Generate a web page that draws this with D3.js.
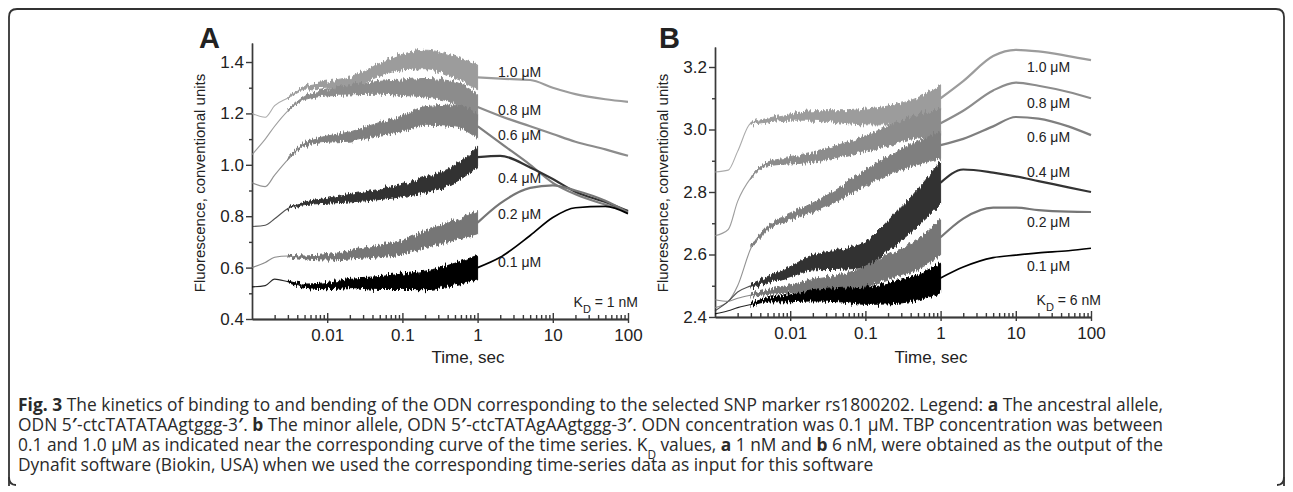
<!DOCTYPE html>
<html>
<head>
<meta charset="utf-8">
<script src="https://cdn.jsdelivr.net/npm/d3@7"></script>
<style>
    html, body { margin: 0; padding: 0; background: #fff; }
    svg { display: block; }
    .axis path, .axis line { stroke: #3a3a3a; stroke-width: 1.4; }
    .axis text { font-family: "Liberation Sans", Arial, sans-serif; font-size: 17px; fill: #222; }
    .chart-text { font-family: "Liberation Sans", Arial, sans-serif; fill: #222; }
    .caption { font-family: "Open Sans", sans-serif; fill: #2a2a2a; }
</style>
</head>
<body>
<div id="fig"></div>
<script>
// sampling times (sec), shared by every curve
var times = [0.001, 0.0015, 0.002, 0.003, 0.005, 0.01, 0.02, 0.05, 0.1, 0.2, 0.5, 1, 2, 5, 10, 20, 50, 100];
var concentrations = ["1.0", "0.8", "0.6", "0.4", "0.2", "0.1"];
var seriesColors = ["#9c9c9c", "#8c8c8c", "#7f7f7f", "#333333", "#767676", "#000000"];

// panel A, ancestral allele (KD = 1 nM)
var a10 = [1.20, 1.185, 1.23, 1.26, 1.30, 1.31, 1.32, 1.37, 1.40, 1.41, 1.38, 1.34, 1.335, 1.33, 1.30, 1.275, 1.255, 1.245];
var a08 = [1.04, 1.10, 1.15, 1.21, 1.26, 1.28, 1.29, 1.30, 1.30, 1.30, 1.28, 1.225, 1.19, 1.15, 1.12, 1.09, 1.06, 1.035];
var a06 = [0.93, 0.915, 0.96, 1.02, 1.08, 1.10, 1.11, 1.14, 1.16, 1.19, 1.19, 1.15, 1.085, 1.00, 0.93, 0.885, 0.845, 0.82];
var a04 = [0.76, 0.765, 0.79, 0.83, 0.85, 0.86, 0.87, 0.885, 0.90, 0.92, 0.965, 1.03, 1.035, 0.99, 0.945, 0.895, 0.855, 0.82];
var a02 = [0.60, 0.62, 0.64, 0.645, 0.64, 0.64, 0.65, 0.665, 0.68, 0.71, 0.745, 0.775, 0.85, 0.91, 0.92, 0.90, 0.86, 0.815];
var a01 = [0.525, 0.53, 0.555, 0.545, 0.53, 0.53, 0.54, 0.54, 0.545, 0.55, 0.575, 0.60, 0.64, 0.725, 0.795, 0.833, 0.838, 0.81];

// panel B, minor allele (KD = 6 nM)
var b10 = [2.864, 2.87, 2.93, 3.02, 3.03, 3.04, 3.045, 3.04, 3.04, 3.045, 3.065, 3.10, 3.155, 3.235, 3.255, 3.25, 3.235, 3.222];
var b08 = [2.66, 2.68, 2.77, 2.845, 2.89, 2.90, 2.91, 2.935, 2.955, 2.98, 3.01, 3.02, 3.06, 3.125, 3.15, 3.14, 3.12, 3.10];
var b06 = [2.43, 2.45, 2.50, 2.62, 2.685, 2.72, 2.75, 2.80, 2.845, 2.885, 2.925, 2.95, 2.97, 3.01, 3.04, 3.035, 3.01, 2.982];
var b04 = [2.42, 2.45, 2.48, 2.50, 2.52, 2.545, 2.575, 2.585, 2.60, 2.66, 2.75, 2.83, 2.872, 2.862, 2.85, 2.835, 2.815, 2.80];
var b02 = [2.455, 2.45, 2.46, 2.47, 2.48, 2.49, 2.50, 2.51, 2.53, 2.56, 2.60, 2.655, 2.715, 2.75, 2.75, 2.742, 2.737, 2.736];
var b01 = [2.41, 2.42, 2.43, 2.44, 2.455, 2.46, 2.468, 2.47, 2.468, 2.475, 2.495, 2.525, 2.56, 2.59, 2.598, 2.605, 2.612, 2.62];

// half width of the noisy stopped-flow trace (t <= 1 s)
var spreadA = [0, 0, 0, 0.003, 0.006, 0.012, 0.018, 0.025, 0.03, 0.036, 0.042, 0.048];
var spreadB = [0, 0, 0, 0.003, 0.006, 0.01, 0.015, 0.02, 0.025, 0.03, 0.037, 0.043];
var noiseA = [1.0, 1.0, 1.0, 0.8, 0.9, 1.0];
var noiseB = [1.0, 1.0, 1.0, 1.6, 1.3, 1.1];

// concentration labels, value where each label sits
var labelValuesA = [1.361, 1.213, 1.116, 0.949, 0.809, 0.622];
var labelValuesB = [3.2, 3.085, 2.976, 2.864, 2.704, 2.563];
var labelTimeA = 1.87;
var labelTimeB = 14.1;

var xTicks = [0.01, 0.1, 1, 10, 100];
var yTicksA = [0.4, 0.6, 0.8, 1.0, 1.2, 1.4];
var yMinorA = [0.5, 0.7, 0.9, 1.1, 1.3];
var yTicksB = [2.4, 2.6, 2.8, 3.0, 3.2];
var yMinorB = [2.5, 2.7, 2.9, 3.1];

var width = 1293, height = 492;
var svg = d3.select("#fig").append("svg")
    .attr("width", width)
    .attr("height", height);

var defs = svg.append("defs");
var rough = defs.append("filter")
    .attr("id", "rough")
    .attr("x", "-5%").attr("y", "-30%")
    .attr("width", "110%").attr("height", "160%");
rough.append("feTurbulence")
    .attr("type", "fractalNoise")
    .attr("baseFrequency", "0.6 0.03")
    .attr("numOctaves", 2)
    .attr("seed", 7)
    .attr("result", "noise");
rough.append("feColorMatrix")
    .attr("in", "noise")
    .attr("type", "matrix")
    .attr("values", "0 0 0 0 0.5  0 1 0 0 0  0 0 0 0 0  0 0 0 0 1")
    .attr("result", "vnoise");
rough.append("feDisplacementMap")
    .attr("in", "SourceGraphic")
    .attr("in2", "vnoise")
    .attr("scale", 9)
    .attr("xChannelSelector", "R")
    .attr("yChannelSelector", "G");

// rounded frame, open at the bottom
svg.append("path")
    .attr("d", "M9,486 L9,17 Q9,9 17,9 L1276,9 Q1284,9 1284,17 L1284,486")
    .attr("fill", "none")
    .attr("stroke", "#333")
    .attr("stroke-width", 1.8);
svg.append("path")
    .attr("d", "M9,477 Q9,485 16,485")
    .attr("fill", "none").attr("stroke", "#333").attr("stroke-width", 1.8);
svg.append("path")
    .attr("d", "M1284,477 Q1284,485 1277,485")
    .attr("fill", "none").attr("stroke", "#333").attr("stroke-width", 1.8);

function minorTimes() {
    var out = [];
    [0.001, 0.01, 0.1, 1, 10].forEach(function(decade) {
        d3.range(2, 10).forEach(function(m) { out.push(decade * m); });
    });
    return out;
}

function drawPanel(cfg) {
    var g = svg.append("g");
    var x = d3.scaleLog().domain([0.001, 100]).range(cfg.xRange);
    var y = d3.scaleLinear().domain(cfg.yDomain).range(cfg.yRange);

    // x axis: minor ticks inside, major ticks crossing
    g.append("g")
        .attr("class", "axis")
        .attr("transform", "translate(0," + cfg.yRange[0] + ")")
        .call(d3.axisBottom(x).tickValues(minorTimes()).tickSize(-4).tickSizeOuter(0).tickFormat(""));
    g.append("g")
        .attr("class", "axis")
        .attr("transform", "translate(0," + cfg.yRange[0] + ")")
        .call(d3.axisBottom(x).tickValues(xTicks).tickSize(-6).tickSizeOuter(0).tickFormat(""));
    g.append("g")
        .attr("class", "axis")
        .attr("transform", "translate(0," + cfg.yRange[0] + ")")
        .call(d3.axisBottom(x).tickValues(xTicks).tickSize(4).tickSizeOuter(0).tickPadding(6)
            .tickFormat(function(d) { return String(d); }));

    g.append("g")
        .attr("class", "axis")
        .attr("transform", "translate(" + cfg.xRange[0] + ",0)")
        .call(d3.axisLeft(y).tickValues(cfg.yMinor).tickSize(3).tickSizeOuter(0).tickFormat(""));
    g.append("g")
        .attr("class", "axis")
        .attr("transform", "translate(" + cfg.xRange[0] + ",0)")
        .call(d3.axisLeft(y).tickValues(cfg.yTicks).tickSize(6).tickSizeOuter(0).tickPadding(2)
            .tickFormat(d3.format(".1f")));
    g.selectAll(".axis .domain").attr("stroke-width", 1.6);

    var line = d3.line()
        .x(function(d) { return x(d[0]); })
        .y(function(d) { return y(d[1]); })
        .curve(d3.curveMonotoneX);
    var band = d3.area()
        .x(function(d) { return x(d[0]); })
        .y0(function(d) { return y(d[1] - d[2]); })
        .y1(function(d) { return y(d[1] + d[2]); })
        .curve(d3.curveMonotoneX);

    cfg.series.forEach(function(values, i) {
        var color = seriesColors[i];
        var early = [], late = [];
        values.forEach(function(v, k) {
            if (times[k] <= 1) {
                early.push([times[k], v, cfg.spread[k] * cfg.noise[i]]);
            }
            if (times[k] >= 1) {
                late.push([times[k], v]);
            }
        });
        g.append("path")
            .attr("d", line(early))
            .attr("fill", "none")
            .attr("stroke", color)
            .attr("stroke-width", 1.1)
            .attr("stroke-opacity", 0.85);
        g.append("path")
            .attr("d", band(early.slice(3)))
            .attr("fill", color)
            .attr("stroke", color)
            .attr("stroke-width", 1)
            .attr("filter", "url(#rough)");
        g.append("path")
            .attr("d", line(late))
            .attr("fill", "none")
            .attr("stroke", color)
            .attr("stroke-width", i === 5 ? 1.7 : 2.2);
    });

    g.selectAll("text.conc")
        .data(concentrations)
        .enter()
        .append("text")
        .attr("class", "chart-text conc")
        .attr("x", x(cfg.labelTime))
        .attr("y", function(d, i) { return y(cfg.labelValues[i]); })
        .attr("dy", "0.35em")
        .attr("font-size", 14)
        .text(function(d) { return d + " \u03bcM"; });

    var kd = g.append("text")
        .attr("class", "chart-text")
        .attr("x", cfg.xRange[1] + 10)
        .attr("y", cfg.kdY)
        .attr("text-anchor", "end")
        .attr("font-size", 14);
    kd.append("tspan").text("K");
    kd.append("tspan").attr("baseline-shift", "sub").attr("font-size", 11).text("D");
    kd.append("tspan").text(" = " + cfg.kd);

    g.append("text")
        .attr("class", "chart-text")
        .attr("x", (cfg.xRange[0] + cfg.xRange[1]) / 2 + 28)
        .attr("y", 363)
        .attr("text-anchor", "middle")
        .attr("font-size", 17)
        .text("Time, sec");

    g.append("text")
        .attr("class", "chart-text")
        .attr("transform", "translate(" + (cfg.xRange[0] - 47) + ",183) rotate(-90)")
        .attr("text-anchor", "middle")
        .attr("font-size", 15)
        .text("Fluorescence, conventional units");

    g.append("text")
        .attr("class", "chart-text")
        .attr("x", cfg.letterX)
        .attr("y", 48)
        .attr("font-size", 29)
        .attr("font-weight", "bold")
        .attr("fill", "#111")
        .text(cfg.letter);
}

drawPanel({
    letter: "A", letterX: 199, kd: "1 nM", kdY: 307,
    xRange: [252, 628], yRange: [319, 43], yDomain: [0.4, 1.474],
    yTicks: yTicksA, yMinor: yMinorA,
    series: [a10, a08, a06, a04, a02, a01],
    spread: spreadA, noise: noiseA,
    labelTime: labelTimeA, labelValues: labelValuesA
});
drawPanel({
    letter: "B", letterX: 659, kd: "6 nM", kdY: 305,
    xRange: [715, 1091], yRange: [317, 47], yDomain: [2.4, 3.264],
    yTicks: yTicksB, yMinor: yMinorB,
    series: [b10, b08, b06, b04, b02, b01],
    spread: spreadB, noise: noiseB,
    labelTime: labelTimeB, labelValues: labelValuesB
});

// caption
var captionLines = [
    [["Fig. 3", "b"], [" The kinetics of binding to and bending of the ODN corresponding to the selected SNP marker rs1800202. Legend: ", ""], ["a", "b"], [" The ancestral allele,", ""]],
    [["ODN 5", ""], ["\u2032", "b"], ["-ctcTATATAAgtggg-3", ""], ["\u2032", "b"], [". ", ""], ["b", "b"], [" The minor allele, ODN 5", ""], ["\u2032", "b"], ["-ctcTATAgAAgtggg-3", ""], ["\u2032", "b"], [". ODN concentration was 0.1 \u00b5M. TBP concentration was between", ""]],
    [["0.1 and 1.0 \u00b5M as indicated near the corresponding curve of the time series. K", ""], ["D", "sub"], [" values, ", ""], ["a", "b"], [" 1 nM and ", ""], ["b", "b"], [" 6 nM, were obtained as the output of the", ""]],
    [["Dynafit software (Biokin, USA) when we used the corresponding time-series data as input for this software", ""]]
];
var caption = svg.append("g").attr("class", "caption");
captionLines.forEach(function(parts, li) {
    var t = caption.append("text")
        .attr("x", 18)
        .attr("y", 411 + li * 20)
        .attr("font-size", 15);
    parts.forEach(function(p) {
        var s = t.append("tspan").text(p[0]);
        if (p[1] === "b") s.attr("font-weight", "bold");
        if (p[1] === "sub") s.attr("baseline-shift", "sub").attr("font-size", 10);
    });
});
// fit the first line to the width it takes in the figure, justify the full lines
var firstWidth = caption.select("text").node().getComputedTextLength();
var fontSize = 15 * 1142 / firstWidth;
caption.selectAll("text").attr("font-size", fontSize);
caption.selectAll("tspan[baseline-shift]").attr("font-size", fontSize * 0.68);
caption.selectAll("text").filter(function(d, i) { return i < 3; })
    .attr("textLength", 1145)
    .attr("lengthAdjust", "spacing");
</script>
</body>
</html>
